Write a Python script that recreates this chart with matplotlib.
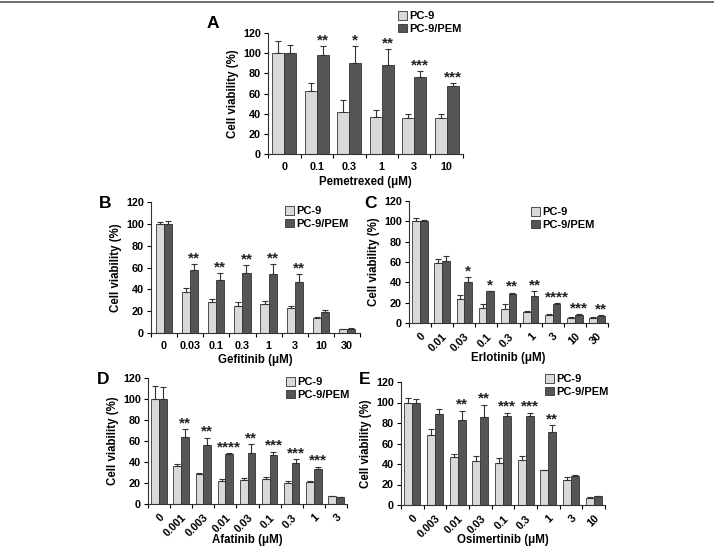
import numpy as np
import matplotlib
matplotlib.use("Agg")
import matplotlib.pyplot as plt
from matplotlib.patches import Patch

plt.rcParams['font.family'] = ['Liberation Sans', 'DejaVu Sans']
plt.rcParams['font.weight'] = 'bold'

# Panel A - Pemetrexed
a_doses = ["0", "0.1", "0.3", "1", "3", "10"]
a_pc9 = [100, 62, 42, 37, 36, 36]
a_pc9_err = [12, 8, 12, 7, 4, 4]
a_pem = [100, 98, 90, 88, 76, 67]
a_pem_err = [8, 9, 17, 16, 6, 3]
a_stars = ["", "**", "*", "**", "***", "***"]

# Panel B - Gefitinib
b_doses = ["0", "0.03", "0.1", "0.3", "1", "3", "10", "30"]
b_pc9 = [100, 38, 28, 25, 27, 23, 13.5, 3.5]
b_pc9_err = [1.5, 3, 3, 3, 2.5, 1.5, 1, 0.5]
b_pem = [100, 58, 49, 55, 54, 47, 19, 4]
b_pem_err = [3, 5, 6, 7, 9, 7, 2, 0.5]
b_stars = ["", "**", "**", "**", "**", "**", "", ""]

# Panel C - Erlotinib
c_doses = ["0", "0.01", "0.03", "0.1", "0.3", "1", "3", "10", "30"]
c_pc9 = [100, 59, 24, 15, 14, 10.5, 8, 5, 5]
c_pc9_err = [3, 4, 4, 4, 5, 1, 1, 0.5, 1]
c_pem = [100, 61, 40, 31, 29, 27, 19, 8, 7]
c_pem_err = [1.5, 5, 5, 0.5, 1, 4, 0.5, 0.5, 0.5]
c_stars = ["", "", "*", "*", "**", "**", "****", "***", "**"]

# Panel D - Afatinib
d_doses = ["0", "0.001", "0.003", "0.01", "0.03", "0.1", "0.3", "1", "3"]
d_pc9 = [100, 36, 28.5, 22, 23, 23.5, 20, 20.5, 7.5]
d_pc9_err = [12, 2.5, 1, 2, 1.5, 2, 1.5, 1, 0.5]
d_pem = [100, 64, 56, 48, 49, 47, 39.5, 33.5, 6.5]
d_pem_err = [11, 7, 7, 0.5, 8, 3, 3, 2, 0.5]
d_stars = ["", "**", "**", "****", "**", "***", "***", "***", ""]

# Panel E - Osimertinib
e_doses = ["0", "0.003", "0.01", "0.03", "0.1", "0.3", "1", "3", "10"]
e_pc9 = [100, 68, 47, 43, 41, 44, 34, 24, 7]
e_pc9_err = [4, 6, 3, 5, 5, 4, 0, 3, 0.5]
e_pem = [100, 89, 83, 86, 87, 87, 71, 28, 8.5]
e_pem_err = [3, 5, 9, 12, 3, 3, 7, 1.5, 0.5]
e_stars = ["", "", "**", "**", "***", "***", "**", "", ""]

W, H = 714, 548
LIGHT = "#d9d9d9"
DARK = "#555555"


def px_rect(l, t, r, b):
    return [l / W, 1 - b / H, (r - l) / W, (b - t) / H]


def draw_panel(fig, rect, letter, letter_xy, doses, pc9, pc9_err, pem, pem_err,
               stars, xlabel, xlabel_y, legend_xy, bw, rotate=False):
    ax = fig.add_axes(px_rect(*rect))
    x = np.arange(len(doses))
    zeros = np.zeros(len(doses))
    ax.bar(x - bw / 2, pc9, bw, color=LIGHT, edgecolor="#333333", linewidth=0.6,
           yerr=[zeros, pc9_err], error_kw=dict(ecolor="#333333", elinewidth=0.8,
                                               capsize=2.2, capthick=0.8))
    ax.bar(x + bw / 2, pem, bw, color=DARK, edgecolor="#333333", linewidth=0.6,
           yerr=[zeros, pem_err], error_kw=dict(ecolor="#333333", elinewidth=0.8,
                                               capsize=2.2, capthick=0.8))
    # significance stars over the PC-9/PEM bar
    for i, s in enumerate(stars):
        if s:
            top = max(pem[i] + pem_err[i], pc9[i] + pc9_err[i])
            ax.text(x[i] + bw / 2, top - 1, s, ha="center", va="bottom",
                    fontsize=11, fontweight="bold", color="#222222")
    ax.set_xlim(-0.5, len(doses) - 0.5)
    ax.set_ylim(0, 120)
    ax.set_yticks(range(0, 121, 20))
    ax.set_xticks(x)
    if rotate:
        ax.set_xticklabels(doses, rotation=45, ha="right", rotation_mode="anchor")
    else:
        ax.set_xticklabels(doses)
    ax.set_xticks(np.arange(-0.5, len(doses), 1), minor=True)
    ax.tick_params(axis="x", which="major", length=0, labelsize=7.8, pad=6)
    ax.tick_params(axis="x", which="minor", length=3, width=0.8, direction="out")
    ax.tick_params(axis="y", length=3, width=0.8, labelsize=7.8, pad=2)
    for lab in ax.get_xticklabels() + ax.get_yticklabels():
        lab.set_fontweight("bold")
    for sp in ["top", "right"]:
        ax.spines[sp].set_visible(False)
    for sp in ["left", "bottom"]:
        ax.spines[sp].set_linewidth(0.8)
        ax.spines[sp].set_color("#333333")
    ax.set_ylabel("Cell viability (%)", fontsize=8.3, fontweight="bold", labelpad=3)
    l, t, r, b = rect
    fig.text((l + r) / 2 / W, 1 - xlabel_y / H, xlabel, ha="center", va="center",
             fontsize=8.3, fontweight="bold")
    fig.text(letter_xy[0] / W, 1 - letter_xy[1] / H, letter, ha="center",
             va="center", fontsize=12.5, fontweight="bold")
    handles = [Patch(facecolor=LIGHT, edgecolor="#333333", linewidth=0.6, label="PC-9"),
               Patch(facecolor=DARK, edgecolor="#333333", linewidth=0.6, label="PC-9/PEM")]
    leg = fig.legend(handles=handles, loc="upper left",
                     bbox_to_anchor=(legend_xy[0] / W, 1 - legend_xy[1] / H),
                     frameon=False, fontsize=8, handlelength=0.8,
                     handleheight=0.8, handletextpad=0.25, labelspacing=0.25,
                     borderpad=0, borderaxespad=0)
    for t_ in leg.get_texts():
        t_.set_fontweight("bold")
    return ax


fig = plt.figure(figsize=(W / 100, H / 100), dpi=100)
fig.add_artist(plt.Line2D([0, 1], [1 - 2 / H, 1 - 2 / H], color="#555555",
                          linewidth=1.2))

draw_panel(fig, (268, 33, 463, 154), "A", (213, 23), a_doses, a_pc9, a_pc9_err,
           a_pem, a_pem_err, a_stars, "Pemetrexed (\u03bcM)", 182, (398, 11), 0.37)
draw_panel(fig, (151, 202, 360, 333), "B", (105, 203), b_doses, b_pc9, b_pc9_err,
           b_pem, b_pem_err, b_stars, "Gefitinib (\u03bcM)", 360, (285, 206), 0.31)
draw_panel(fig, (409, 201, 608, 323), "C", (370, 203), c_doses, c_pc9, c_pc9_err,
           c_pem, c_pem_err, c_stars, "Erlotinib (\u03bcM)", 358, (531, 207), 0.35,
           rotate=True)
draw_panel(fig, (148, 378, 347, 504), "D", (103, 380), d_doses, d_pc9, d_pc9_err,
           d_pem, d_pem_err, d_stars, "Afatinib (\u03bcM)", 540, (286, 377), 0.35,
           rotate=True)
draw_panel(fig, (401, 382, 605, 505), "E", (365, 380), e_doses, e_pc9, e_pc9_err,
           e_pem, e_pem_err, e_stars, "Osimertinib (\u03bcM)", 540, (545, 374), 0.35,
           rotate=True)

fig.savefig("out.png", dpi=100)
